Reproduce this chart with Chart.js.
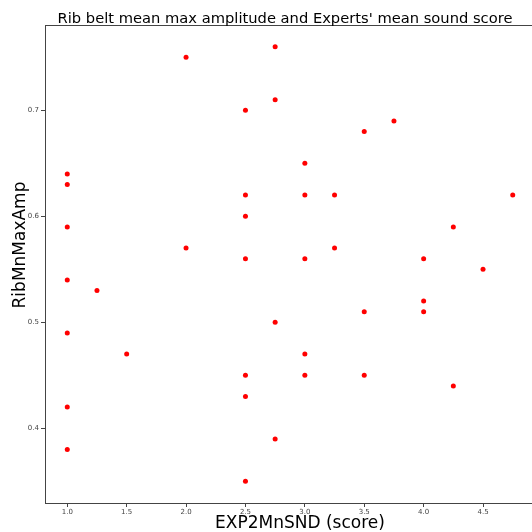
<!DOCTYPE html>
<html>
<head>
<meta charset="utf-8">
<script src="https://cdn.jsdelivr.net/npm/chart.js@4/dist/chart.umd.min.js"></script>
<style>
    html, body { margin: 0; padding: 0; overflow: hidden; background: #fff; }
    #wrap { width: 540px; height: 532px; }
</style>
</head>
<body>
<div id="wrap"><canvas id="scatterChart"></canvas></div>
<script>
// --- Data ---
const expScores = [1.0, 1.0, 1.0, 1.0, 1.0, 1.0, 1.0,
                   1.25, 1.5, 2.0, 2.0,
                   2.5, 2.5, 2.5, 2.5, 2.5, 2.5, 2.5,
                   2.75, 2.75, 2.75, 2.75,
                   3.0, 3.0, 3.0, 3.0, 3.0,
                   3.25, 3.25, 3.5, 3.5, 3.5, 3.75,
                   4.0, 4.0, 4.0, 4.25, 4.25, 4.5, 4.75];
const ribAmps   = [0.64, 0.63, 0.59, 0.54, 0.49, 0.42, 0.38,
                   0.53, 0.47, 0.75, 0.57,
                   0.70, 0.62, 0.60, 0.56, 0.45, 0.43, 0.35,
                   0.76, 0.71, 0.50, 0.39,
                   0.65, 0.62, 0.56, 0.47, 0.45,
                   0.62, 0.57, 0.68, 0.51, 0.45, 0.69,
                   0.56, 0.52, 0.51, 0.59, 0.44, 0.55, 0.62];
const xTicks = [1.0, 1.5, 2.0, 2.5, 3.0, 3.5, 4.0, 4.5];
const yTicks = [0.4, 0.5, 0.6, 0.7];

const titleText = "Rib belt mean max amplitude and Experts' mean sound score";
const xLabel = 'EXP2MnSND (score)';
const yLabel = 'RibMnMaxAmp';

const points = expScores.map((x, i) => ({ x: x, y: ribAmps[i] }));
const spineColor = '#444';
const fontFamily = 'DejaVu Sans';

// top frame line, title and axis labels placed like the original
const framePlugin = {
    id: 'frame',
    afterDraw(chart) {
        const { ctx, chartArea } = chart;
        ctx.save();
        ctx.strokeStyle = spineColor;
        ctx.lineWidth = 1;
        ctx.beginPath();
        ctx.moveTo(chartArea.left, chartArea.top + 0.5);
        ctx.lineTo(chartArea.right, chartArea.top + 0.5);
        ctx.stroke();

        ctx.fillStyle = '#000';
        ctx.textAlign = 'center';
        ctx.textBaseline = 'alphabetic';
        ctx.font = '14.7px ' + fontFamily;
        ctx.fillText(titleText, 285, 22.5);

        ctx.font = '17px ' + fontFamily;
        ctx.fillText(xLabel, 300, 528);

        ctx.translate(25, 245);
        ctx.rotate(-Math.PI / 2);
        ctx.fillText(yLabel, 0, 0);
        ctx.restore();
    }
};

new Chart(document.getElementById('scatterChart'), {
    type: 'scatter',
    data: {
        datasets: [{
            data: points,
            backgroundColor: '#ff0000',
            borderWidth: 0,
            pointRadius: 2.5,
            pointHoverRadius: 2.5
        }]
    },
    options: {
        responsive: true,
        maintainAspectRatio: false,
        animation: false,
        layout: { padding: { top: 25, right: 5, bottom: 0, left: 0 } },
        plugins: {
            legend: { display: false },
            tooltip: { enabled: false },
            title: { display: false }
        },
        scales: {
            x: {
                type: 'linear',
                min: 0.8125,
                max: 4.9375,
                afterBuildTicks: (scale) => { scale.ticks = xTicks.map(v => ({ value: v })); },
                afterFit: (scale) => { scale.height = 29; },
                ticks: {
                    color: '#444',
                    font: { family: fontFamily, size: 7 },
                    padding: 1,
                    maxRotation: 0,
                    callback: (v) => v.toFixed(1)
                },
                grid: { drawOnChartArea: false, drawTicks: true, tickLength: 4, color: spineColor },
                border: { color: spineColor, width: 1 }
            },
            y: {
                type: 'linear',
                min: 0.3295,
                max: 0.7805,
                afterBuildTicks: (scale) => { scale.ticks = yTicks.map(v => ({ value: v })); },
                afterFit: (scale) => { scale.width = 45; },
                ticks: {
                    color: '#444',
                    font: { family: fontFamily, size: 7 },
                    padding: 2,
                    callback: (v) => v.toFixed(1)
                },
                grid: { drawOnChartArea: false, drawTicks: true, tickLength: 4, color: spineColor },
                border: { color: spineColor, width: 1 }
            }
        }
    },
    plugins: [framePlugin]
});
</script>
</body>
</html>
